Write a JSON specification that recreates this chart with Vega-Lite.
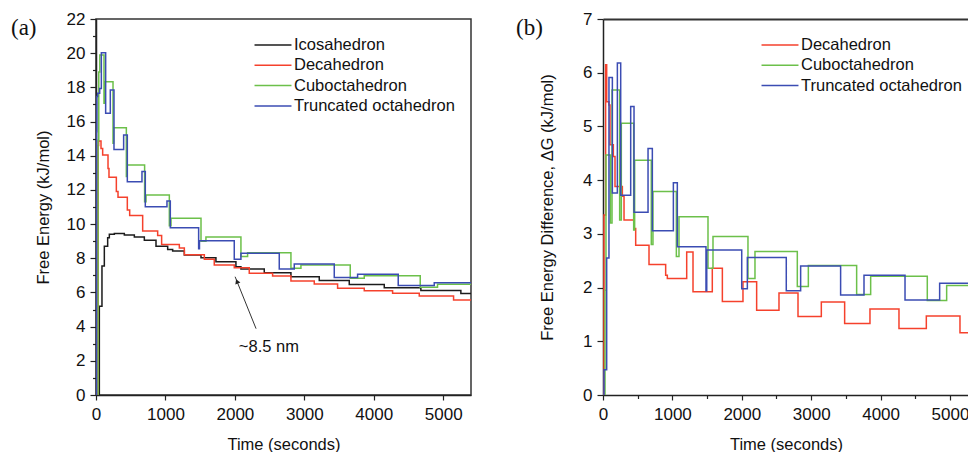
{
  "$schema": "https://vega.github.io/schema/vega-lite/v6.json",
  "background": "white",
  "padding": {"left": 10, "top": 9, "right": 0, "bottom": 0},
  "config": {
    "font": "Liberation Sans",
    "view": {"stroke": "#333", "strokeWidth": 1.5},
    "axis": {
      "labelFont": "Liberation Sans", "labelFontSize": 17, "labelColor": "#111",
      "titleFont": "Liberation Sans", "titleFontSize": 16.5, "titleFontWeight": "normal", "titleColor": "#111",
      "domainColor": "#222", "domainWidth": 1.5, "tickColor": "#222", "tickWidth": 1.2,
      "grid": false, "labelFlush": false, "labelOverlap": false
    },
    "legend": {
      "orient": "none", "title": null, "symbolType": "M-2.31,0H2.31", "symbolSize": 256, "symbolStrokeWidth": 1.5,
      "labelFont": "Liberation Sans", "labelFontSize": 16.5, "labelColor": "#111", "labelOffset": 12, "rowPadding": 2.3, "labelLimit": 300
    }
  },
  "datasets": {
    "a": [
      {"s": "Icosahedron", "t": 30, "v": 0}, {"s": "Icosahedron", "t": 48, "v": 5.2}, {"s": "Icosahedron", "t": 86, "v": 7.55},
      {"s": "Icosahedron", "t": 120, "v": 8.7}, {"s": "Icosahedron", "t": 168, "v": 9.2}, {"s": "Icosahedron", "t": 192, "v": 9.4},
      {"s": "Icosahedron", "t": 264, "v": 9.45}, {"s": "Icosahedron", "t": 408, "v": 9.36}, {"s": "Icosahedron", "t": 552, "v": 9.24},
      {"s": "Icosahedron", "t": 696, "v": 9.06}, {"s": "Icosahedron", "t": 864, "v": 8.71}, {"s": "Icosahedron", "t": 1032, "v": 8.52},
      {"s": "Icosahedron", "t": 1104, "v": 8.42}, {"s": "Icosahedron", "t": 1272, "v": 8.19}, {"s": "Icosahedron", "t": 1512, "v": 8.03},
      {"s": "Icosahedron", "t": 1727, "v": 7.8}, {"s": "Icosahedron", "t": 2015, "v": 7.5}, {"s": "Icosahedron", "t": 2087, "v": 7.37},
      {"s": "Icosahedron", "t": 2423, "v": 7.15}, {"s": "Icosahedron", "t": 2807, "v": 6.92}, {"s": "Icosahedron", "t": 3215, "v": 6.7},
      {"s": "Icosahedron", "t": 3647, "v": 6.47}, {"s": "Icosahedron", "t": 4151, "v": 6.28}, {"s": "Icosahedron", "t": 4678, "v": 6.12},
      {"s": "Icosahedron", "t": 5254, "v": 5.94}, {"s": "Icosahedron", "t": 5400, "v": 5.94},

      {"s": "Decahedron", "t": 15, "v": 0}, {"s": "Decahedron", "t": 30, "v": 14.6}, {"s": "Decahedron", "t": 38, "v": 14.86},
      {"s": "Decahedron", "t": 72, "v": 14.43}, {"s": "Decahedron", "t": 96, "v": 14.04}, {"s": "Decahedron", "t": 173, "v": 13.26},
      {"s": "Decahedron", "t": 187, "v": 12.74}, {"s": "Decahedron", "t": 293, "v": 11.9}, {"s": "Decahedron", "t": 317, "v": 11.57},
      {"s": "Decahedron", "t": 451, "v": 10.83}, {"s": "Decahedron", "t": 485, "v": 10.5}, {"s": "Decahedron", "t": 672, "v": 9.6},
      {"s": "Decahedron", "t": 888, "v": 9.33}, {"s": "Decahedron", "t": 945, "v": 8.8}, {"s": "Decahedron", "t": 1200, "v": 8.6},
      {"s": "Decahedron", "t": 1272, "v": 8.2}, {"s": "Decahedron", "t": 1560, "v": 7.95}, {"s": "Decahedron", "t": 1703, "v": 7.6},
      {"s": "Decahedron", "t": 1991, "v": 7.45}, {"s": "Decahedron", "t": 2207, "v": 7.12}, {"s": "Decahedron", "t": 2543, "v": 6.96},
      {"s": "Decahedron", "t": 2807, "v": 6.67}, {"s": "Decahedron", "t": 3143, "v": 6.5}, {"s": "Decahedron", "t": 3479, "v": 6.24},
      {"s": "Decahedron", "t": 3863, "v": 6.1}, {"s": "Decahedron", "t": 4271, "v": 5.95}, {"s": "Decahedron", "t": 4655, "v": 5.79},
      {"s": "Decahedron", "t": 5149, "v": 5.56}, {"s": "Decahedron", "t": 5400, "v": 5.56},

      {"s": "Cuboctahedron", "t": 20, "v": 0}, {"s": "Cuboctahedron", "t": 30, "v": 14.9}, {"s": "Cuboctahedron", "t": 40, "v": 18.9},
      {"s": "Cuboctahedron", "t": 55, "v": 19.9}, {"s": "Cuboctahedron", "t": 115, "v": 17.07}, {"s": "Cuboctahedron", "t": 125, "v": 18.33},
      {"s": "Cuboctahedron", "t": 245, "v": 14.73}, {"s": "Cuboctahedron", "t": 254, "v": 15.64}, {"s": "Cuboctahedron", "t": 437, "v": 12.78},
      {"s": "Cuboctahedron", "t": 446, "v": 13.46}, {"s": "Cuboctahedron", "t": 700, "v": 11.31}, {"s": "Cuboctahedron", "t": 720, "v": 11.7},
      {"s": "Cuboctahedron", "t": 1056, "v": 9.91}, {"s": "Cuboctahedron", "t": 1080, "v": 10.34}, {"s": "Cuboctahedron", "t": 1512, "v": 9.0},
      {"s": "Cuboctahedron", "t": 1583, "v": 9.25}, {"s": "Cuboctahedron", "t": 2087, "v": 8.1}, {"s": "Cuboctahedron", "t": 2183, "v": 8.33},
      {"s": "Cuboctahedron", "t": 2807, "v": 7.41}, {"s": "Cuboctahedron", "t": 2951, "v": 7.61}, {"s": "Cuboctahedron", "t": 3661, "v": 6.83},
      {"s": "Cuboctahedron", "t": 3863, "v": 6.98}, {"s": "Cuboctahedron", "t": 4669, "v": 6.3}, {"s": "Cuboctahedron", "t": 4918, "v": 6.48},
      {"s": "Cuboctahedron", "t": 5400, "v": 6.48},

      {"s": "Truncated octahedron", "t": 5, "v": 0}, {"s": "Truncated octahedron", "t": 8, "v": 15.4}, {"s": "Truncated octahedron", "t": 12, "v": 17.46},
      {"s": "Truncated octahedron", "t": 24, "v": 17.65}, {"s": "Truncated octahedron", "t": 53, "v": 17.94}, {"s": "Truncated octahedron", "t": 77, "v": 20.03},
      {"s": "Truncated octahedron", "t": 139, "v": 16.48}, {"s": "Truncated octahedron", "t": 206, "v": 17.85}, {"s": "Truncated octahedron", "t": 259, "v": 14.37},
      {"s": "Truncated octahedron", "t": 398, "v": 15.21}, {"s": "Truncated octahedron", "t": 451, "v": 12.48}, {"s": "Truncated octahedron", "t": 662, "v": 13.07},
      {"s": "Truncated octahedron", "t": 710, "v": 11.02}, {"s": "Truncated octahedron", "t": 1022, "v": 11.35}, {"s": "Truncated octahedron", "t": 1070, "v": 9.79},
      {"s": "Truncated octahedron", "t": 1478, "v": 8.55}, {"s": "Truncated octahedron", "t": 1490, "v": 9.03}, {"s": "Truncated octahedron", "t": 1991, "v": 7.95},
      {"s": "Truncated octahedron", "t": 2087, "v": 8.3}, {"s": "Truncated octahedron", "t": 2639, "v": 7.37}, {"s": "Truncated octahedron", "t": 2855, "v": 7.67},
      {"s": "Truncated octahedron", "t": 3431, "v": 6.87}, {"s": "Truncated octahedron", "t": 3767, "v": 7.06}, {"s": "Truncated octahedron", "t": 4352, "v": 6.4},
      {"s": "Truncated octahedron", "t": 4871, "v": 6.57}, {"s": "Truncated octahedron", "t": 5400, "v": 6.57}
    ],
    "b": [
      {"s": "Decahedron", "t": 5, "v": 0}, {"s": "Decahedron", "t": 14, "v": 3.35}, {"s": "Decahedron", "t": 38, "v": 6.15},
      {"s": "Decahedron", "t": 53, "v": 5.46}, {"s": "Decahedron", "t": 86, "v": 5.4}, {"s": "Decahedron", "t": 101, "v": 4.66},
      {"s": "Decahedron", "t": 149, "v": 4.44}, {"s": "Decahedron", "t": 173, "v": 3.88}, {"s": "Decahedron", "t": 279, "v": 3.7},
      {"s": "Decahedron", "t": 303, "v": 3.26}, {"s": "Decahedron", "t": 447, "v": 3.1}, {"s": "Decahedron", "t": 471, "v": 2.79},
      {"s": "Decahedron", "t": 663, "v": 2.43}, {"s": "Decahedron", "t": 903, "v": 2.23}, {"s": "Decahedron", "t": 927, "v": 2.17},
      {"s": "Decahedron", "t": 1206, "v": 2.66}, {"s": "Decahedron", "t": 1297, "v": 1.92}, {"s": "Decahedron", "t": 1575, "v": 2.36},
      {"s": "Decahedron", "t": 1720, "v": 1.74}, {"s": "Decahedron", "t": 2017, "v": 2.11}, {"s": "Decahedron", "t": 2214, "v": 1.58},
      {"s": "Decahedron", "t": 2536, "v": 1.9}, {"s": "Decahedron", "t": 2810, "v": 1.46}, {"s": "Decahedron", "t": 3146, "v": 1.73},
      {"s": "Decahedron", "t": 3482, "v": 1.33}, {"s": "Decahedron", "t": 3847, "v": 1.6}, {"s": "Decahedron", "t": 4265, "v": 1.24},
      {"s": "Decahedron", "t": 4659, "v": 1.47}, {"s": "Decahedron", "t": 5144, "v": 1.16}, {"s": "Decahedron", "t": 5400, "v": 1.16},

      {"s": "Cuboctahedron", "t": 20, "v": 0}, {"s": "Cuboctahedron", "t": 29, "v": 1.95}, {"s": "Cuboctahedron", "t": 43, "v": 4.47},
      {"s": "Cuboctahedron", "t": 106, "v": 3.2}, {"s": "Cuboctahedron", "t": 130, "v": 5.68}, {"s": "Cuboctahedron", "t": 240, "v": 3.26},
      {"s": "Cuboctahedron", "t": 264, "v": 5.06}, {"s": "Cuboctahedron", "t": 442, "v": 3.07}, {"s": "Cuboctahedron", "t": 456, "v": 4.37},
      {"s": "Cuboctahedron", "t": 696, "v": 2.8}, {"s": "Cuboctahedron", "t": 720, "v": 3.79}, {"s": "Cuboctahedron", "t": 1057, "v": 2.58},
      {"s": "Cuboctahedron", "t": 1095, "v": 3.32}, {"s": "Cuboctahedron", "t": 1513, "v": 2.36}, {"s": "Cuboctahedron", "t": 1585, "v": 2.95},
      {"s": "Cuboctahedron", "t": 2089, "v": 2.17}, {"s": "Cuboctahedron", "t": 2190, "v": 2.67}, {"s": "Cuboctahedron", "t": 2800, "v": 2.02},
      {"s": "Cuboctahedron", "t": 2959, "v": 2.41}, {"s": "Cuboctahedron", "t": 3655, "v": 1.87}, {"s": "Cuboctahedron", "t": 3857, "v": 2.21},
      {"s": "Cuboctahedron", "t": 4673, "v": 1.76}, {"s": "Cuboctahedron", "t": 4952, "v": 2.04}, {"s": "Cuboctahedron", "t": 5400, "v": 2.04},

      {"s": "Truncated octahedron", "t": 10, "v": 0}, {"s": "Truncated octahedron", "t": 14, "v": 0.47}, {"s": "Truncated octahedron", "t": 53, "v": 2.55},
      {"s": "Truncated octahedron", "t": 86, "v": 5.91}, {"s": "Truncated octahedron", "t": 135, "v": 3.76}, {"s": "Truncated octahedron", "t": 207, "v": 6.18},
      {"s": "Truncated octahedron", "t": 255, "v": 3.72}, {"s": "Truncated octahedron", "t": 399, "v": 5.37}, {"s": "Truncated octahedron", "t": 447, "v": 3.4},
      {"s": "Truncated octahedron", "t": 649, "v": 4.59}, {"s": "Truncated octahedron", "t": 711, "v": 3.06}, {"s": "Truncated octahedron", "t": 1014, "v": 3.95},
      {"s": "Truncated octahedron", "t": 1071, "v": 2.76}, {"s": "Truncated octahedron", "t": 1484, "v": 1.94}, {"s": "Truncated octahedron", "t": 1495, "v": 2.7},
      {"s": "Truncated octahedron", "t": 1999, "v": 1.98}, {"s": "Truncated octahedron", "t": 2080, "v": 2.56}, {"s": "Truncated octahedron", "t": 2641, "v": 1.94},
      {"s": "Truncated octahedron", "t": 2848, "v": 2.4}, {"s": "Truncated octahedron", "t": 3424, "v": 1.86}, {"s": "Truncated octahedron", "t": 3761, "v": 2.23},
      {"s": "Truncated octahedron", "t": 4352, "v": 1.77}, {"s": "Truncated octahedron", "t": 4851, "v": 2.08}, {"s": "Truncated octahedron", "t": 5400, "v": 2.08}
    ]
  },
  "spacing": 132,
  "bounds": "flush",
  "resolve": {"scale": {"color": "independent"}, "legend": {"color": "independent"}},
  "hconcat": [
    {
      "width": 375,
      "height": 376,
      "resolve": {"axis": {"y": "independent"}},
      "layer": [
        {
          "data": {"name": "a"},
          "mark": {"type": "line", "interpolate": "step-after", "strokeWidth": 1.5, "clip": true},
          "encoding": {
            "x": {"field": "t", "type": "quantitative", "scale": {"domain": [0, 5400], "nice": false, "zero": false},
              "axis": {"title": "Time (seconds)", "values": [0, 500, 1000, 1500, 2000, 2500, 3000, 3500, 4000, 4500, 5000],
                "labelExpr": "datum.value % 1000 === 0 ? format(datum.value, 'd') : ''", "labelOverlap": false,
                "labelFontSize": {"condition": {"test": "datum.value % 1000 === 0", "value": 17}, "value": 1},
                "tickSize": {"condition": {"test": "datum.value % 1000 === 0", "value": 5}, "value": 3.5},
                "labelPadding": 6, "titlePadding": 14}},
            "y": {"field": "v", "type": "quantitative", "scale": {"domain": [0, 22], "nice": false},
              "axis": {"orient": "left", "title": "Free Energy (kJ/mol)", "values": [0,2,4,6,8,10,12,14,16,18,20,22], "format": "d", "labelOverlap": false,
                "tickSize": 6, "labelPadding": 5, "titlePadding": 15}},
            "color": {"field": "s", "type": "nominal",
              "scale": {"domain": ["Icosahedron", "Decahedron", "Cuboctahedron", "Truncated octahedron"], "range": ["#1c1c1c", "#f5412c", "#6cc04a", "#3b4cb3"]},
              "legend": {"legendX": 168, "legendY": 17}}
          }
        },
        {
          "data": {"name": "a"},
          "mark": {"type": "point", "opacity": 0},
          "encoding": {
            "x": {"field": "t", "type": "quantitative"},
            "y": {"field": "v", "type": "quantitative",
              "axis": {"orient": "left", "values": [1,3,5,7,9,11,13,15,17,19,21], "labels": false, "domain": false, "title": null, "tickSize": 3.5, "offset": 0}}
          }
        },
        {
          "data": {"values": [{"t": 2305, "v": 3.88, "t2": 2003, "v2": 6.92}]},
          "mark": {"type": "rule", "color": "#333", "strokeWidth": 1},
          "encoding": {"x": {"field": "t", "type": "quantitative"}, "y": {"field": "v", "type": "quantitative", "axis": null}, "x2": {"field": "t2"}, "y2": {"field": "v2"}}
        },
        {
          "data": {"values": [{"t": 2030, "v": 6.65, "a": 338}]},
          "mark": {"type": "point", "shape": "triangle-up", "filled": true, "color": "#222", "size": 30, "opacity": 1},
          "encoding": {"x": {"field": "t", "type": "quantitative"}, "y": {"field": "v", "type": "quantitative", "axis": null}, "angle": {"field": "a", "type": "quantitative", "scale": null}}
        },
        {
          "data": {"values": [{"t": 2490, "v": 2.79, "label": "~8.5 nm"}]},
          "mark": {"type": "text", "font": "Liberation Sans", "fontSize": 16.5, "color": "#111", "align": "center", "baseline": "middle"},
          "encoding": {"x": {"field": "t", "type": "quantitative"}, "y": {"field": "v", "type": "quantitative", "axis": null}, "text": {"field": "label"}}
        },
        {
          "data": {"values": [{"t": -1224, "v": 21.08, "label": "(a)"}]},
          "mark": {"type": "text", "font": "Liberation Serif", "fontSize": 23, "color": "#111", "align": "left", "baseline": "alphabetic", "clip": false},
          "encoding": {"x": {"field": "t", "type": "quantitative"}, "y": {"field": "v", "type": "quantitative", "axis": null}, "text": {"field": "label"}}
        }
      ]
    },
    {
      "width": 366,
      "height": 376,
      "view": {"stroke": null},
      "resolve": {"axis": {"x": "independent"}},
      "layer": [
        {
          "data": {"name": "b"},
          "mark": {"type": "line", "interpolate": "step-after", "strokeWidth": 1.5, "clip": true},
          "encoding": {
            "x": {"field": "t", "type": "quantitative", "scale": {"domain": [0, 5274], "nice": false, "zero": false},
              "axis": {"title": "Time (seconds)", "values": [0, 500, 1000, 1500, 2000, 2500, 3000, 3500, 4000, 4500, 5000],
                "labelExpr": "datum.value % 1000 === 0 ? format(datum.value, 'd') : ''", "labelOverlap": false,
                "labelFontSize": {"condition": {"test": "datum.value % 1000 === 0", "value": 17}, "value": 1},
                "tickSize": {"condition": {"test": "datum.value % 1000 === 0", "value": 5}, "value": 3.5},
                "labelPadding": 6, "titlePadding": 14}},
            "y": {"field": "v", "type": "quantitative", "scale": {"domain": [0, 7], "nice": false},
              "axis": {"title": "Free Energy Difference, ΔG (kJ/mol)", "values": [0,0.5,1,1.5,2,2.5,3,3.5,4,4.5,5,5.5,6,6.5,7],
                "labelExpr": "datum.value % 1 === 0 ? format(datum.value, 'd') : ''", "labelOverlap": false,
                "labelFontSize": {"condition": {"test": "datum.value % 1 === 0", "value": 17}, "value": 1},
                "tickSize": {"condition": {"test": "datum.value % 1 === 0", "value": 6}, "value": 3.5},
                "labelPadding": 5, "titlePadding": 27}},
            "color": {"field": "s", "type": "nominal",
              "scale": {"domain": ["Decahedron", "Cuboctahedron", "Truncated octahedron"], "range": ["#f5412c", "#6cc04a", "#3b4cb3"]},
              "legend": {"legendX": 168, "legendY": 17}}
          }
        },
        {
          "data": {"name": "b"},
          "mark": {"type": "point", "opacity": 0},
          "encoding": {
            "x": {"field": "t", "type": "quantitative", "axis": {"orient": "top", "labels": false, "ticks": false, "title": null, "domainWidth": 2, "domainColor": "#333"}},
            "y": {"field": "v", "type": "quantitative"}
          }
        },
        {
          "data": {"values": [{"t": -1253, "v": 6.71, "label": "(b)"}]},
          "mark": {"type": "text", "font": "Liberation Serif", "fontSize": 23, "color": "#111", "align": "left", "baseline": "alphabetic", "clip": false},
          "encoding": {"x": {"field": "t", "type": "quantitative", "axis": null}, "y": {"field": "v", "type": "quantitative"}, "text": {"field": "label"}}
        }
      ]
    }
  ]
}
